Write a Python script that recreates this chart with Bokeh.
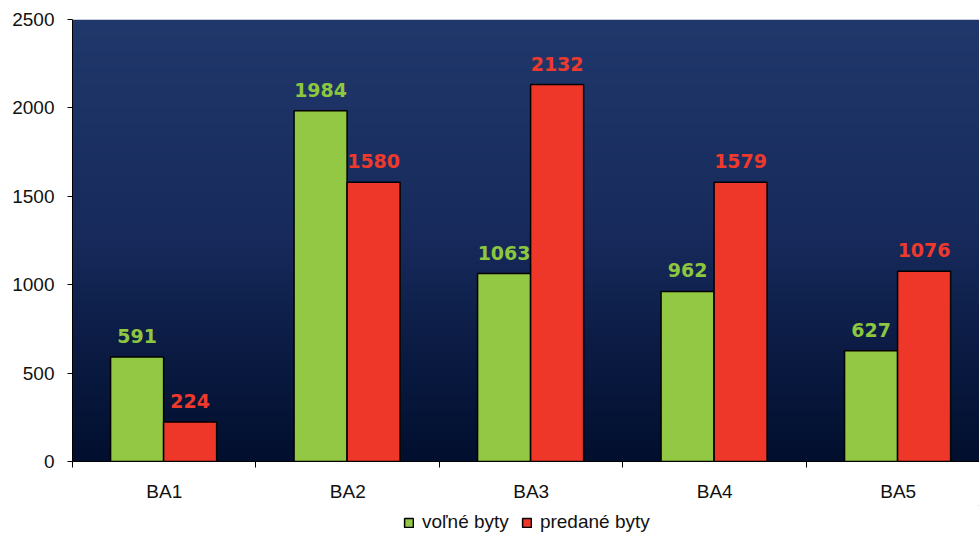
import numpy as np
from bokeh.plotting import figure
from bokeh.layouts import column
from bokeh.models import (ColumnDataSource, FixedTicker, CustomJSTickFormatter, Legend,
                          LegendItem, Range1d)
from bokeh.core.properties import value
from bokeh.embed import file_html
from bokeh.resources import INLINE

categories = ["BA1", "BA2", "BA3", "BA4", "BA5"]
volne = [591, 1984, 1063, 962, 627]
predane = [224, 1580, 2132, 1579, 1076]
series_names = ["voľné byty", "predané byty"]
y_ticks = [0, 500, 1000, 1500, 2000, 2500]

GREEN = "#92c843"
RED = "#ee3629"
GREEN_TXT = "#8dc63f"
RED_TXT = "#ee3a2d"

n = len(categories)
idx = np.arange(n)
X_END = 4.943  # the last category runs slightly past the right edge

p = figure(width=979, height=505, output_backend="svg", toolbar_location=None,
           x_range=Range1d(0, X_END), y_range=Range1d(0, 2500),
           min_border_left=72, min_border_right=0, min_border_top=19, min_border_bottom=44)
p.outline_line_color = None
p.background_fill_color = "white"
p.border_fill_color = "white"
p.grid.visible = False

# gradient background of the plot area
stops = [(0.0, (0x02, 0x0f, 0x2e)), (0.25, (0x0b, 0x1b, 0x43)),
         (0.5, (0x17, 0x2a, 0x5b)), (1.0, (0x21, 0x38, 0x6c))]
rows = 200
img = np.zeros((rows, 1), dtype=np.uint32)
view = img.view(dtype=np.uint8).reshape((rows, 1, 4))
pos = [s[0] for s in stops]
for ch in range(3):
    vals = [s[1][ch] for s in stops]
    view[:, 0, ch] = np.interp(np.linspace(0, 1, rows), pos, vals).astype(np.uint8)
view[:, 0, 3] = 255
p.image_rgba(image=[img], x=0, y=0, dw=n, dh=2500)

src = ColumnDataSource(dict(
    xg=idx + 0.352, xr=idx + 0.641, volne=volne, predane=predane,
    lv=[str(v) for v in volne], lp=[str(v) for v in predane]))

p.vbar(x="xg", top="volne", width=0.289, source=src, fill_color=GREEN,
       line_color="black", line_width=1.5)
p.vbar(x="xr", top="predane", width=0.289, source=src, fill_color=RED,
       line_color="black", line_width=1.5)

p.text(x="xg", y="volne", text="lv", source=src, text_align="center",
       text_baseline="alphabetic", y_offset=-21, text_color=GREEN_TXT,
       text_font=value("DejaVu Sans"), text_font_style="bold", text_font_size="19px")
p.text(x="xr", y="predane", text="lp", source=src, text_align="center",
       text_baseline="alphabetic", y_offset=-21, text_color=RED_TXT,
       text_font=value("DejaVu Sans"), text_font_style="bold", text_font_size="19px")

# y axis
p.yaxis.ticker = FixedTicker(ticks=y_ticks)
p.yaxis.major_tick_out = 5
p.yaxis.major_tick_in = 0
p.yaxis.minor_tick_out = 0
p.yaxis.minor_tick_in = 0
p.yaxis.major_label_standoff = 13
p.yaxis.major_label_text_font = "Liberation Sans"
p.yaxis.major_label_text_font_size = "19px"
p.yaxis.major_label_text_color = "#111111"
p.yaxis.axis_line_color = "black"
p.yaxis.major_tick_line_color = "black"

# x axis: labels at category centers, ticks at boundaries
p.xaxis.ticker = FixedTicker(ticks=list(idx + 0.5), minor_ticks=list(range(n + 1)))
p.xaxis.formatter = CustomJSTickFormatter(args=dict(labels=categories),
                                          code="return labels[Math.floor(tick)];")
p.xaxis.major_tick_out = 0
p.xaxis.major_tick_in = 0
p.xaxis.minor_tick_out = 6
p.xaxis.minor_tick_in = 0
p.xaxis.minor_tick_line_color = "black"
p.xaxis.major_label_standoff = 13
p.xaxis.major_label_text_font = "Liberation Sans"
p.xaxis.major_label_text_font_size = "19px"
p.xaxis.major_label_text_color = "#111111"
p.xaxis.axis_line_color = "black"

# legend strip below the chart (swatch renderers sit outside the visible range)
lg = figure(width=979, height=28, output_backend="svg", toolbar_location=None,
            x_range=Range1d(0, 1), y_range=Range1d(0, 1),
            x_axis_location=None, y_axis_location=None,
            min_border_left=0, min_border_right=0, min_border_top=0, min_border_bottom=0)
lg.outline_line_color = None
lg.grid.visible = False
lg.background_fill_color = "white"
lg.border_fill_color = "white"
g1 = lg.vbar(x=[5], top=[5], bottom=[4], width=0.1, fill_color=GREEN,
             line_color="black", line_width=1.5)
g2 = lg.vbar(x=[5], top=[5], bottom=[4], width=0.1, fill_color=RED,
             line_color="black", line_width=1.5)
legend = Legend(items=[LegendItem(label=series_names[0], renderers=[g1]),
                       LegendItem(label=series_names[1], renderers=[g2])],
                orientation="horizontal", location=(331, 0),
                padding=0, margin=0, spacing=12, label_standoff=8,
                glyph_width=11, glyph_height=11, label_height=20,
                label_text_font="Liberation Sans", label_text_font_size="19px",
                label_text_color="#111111", border_line_color=None,
                background_fill_alpha=0)
lg.add_layout(legend, "center")

layout = column(p, lg, spacing=0)
open("out.html", "w").write(file_html(layout, INLINE))
